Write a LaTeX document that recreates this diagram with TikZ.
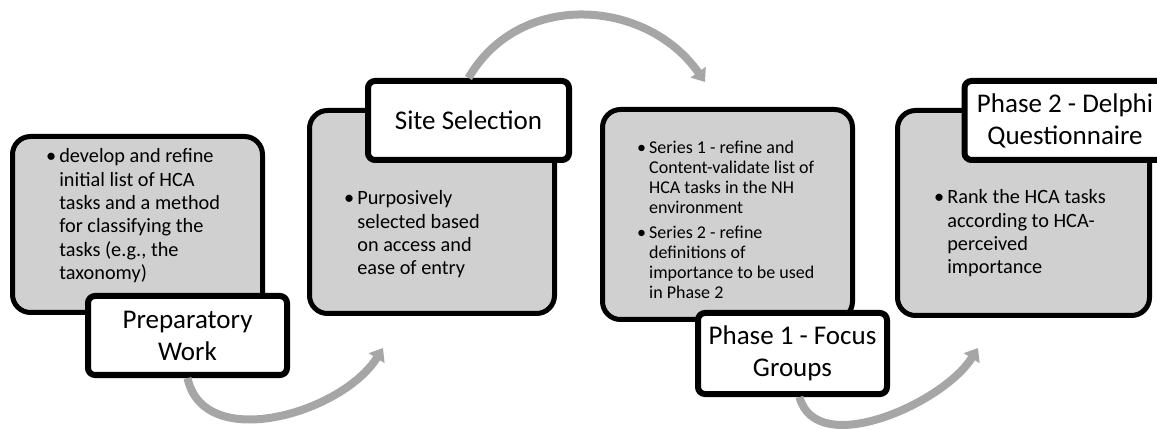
\documentclass[tikz,border=0pt]{standalone}
\usepackage{fontspec}
\setmainfont{Carlito}
\usepackage{xcolor}
\usepackage{tikz}
\usetikzlibrary{arrows.meta, shadows}
\definecolor{stagegray}{HTML}{D0D0D0}
\definecolor{arrowgray}{HTML}{A6A6A6}
\tikzset{
    stagebox/.style={draw=black, line width=5pt, fill=stagegray, rounded corners=18pt,
        drop shadow={opacity=0.25, shadow xshift=2pt, shadow yshift=-2pt}},
    stagelabel/.style={draw=black, line width=6pt, fill=white, rounded corners=7pt, align=center,
        inner sep=0pt, font=\fontsize{27}{32}\selectfont,
        drop shadow={opacity=0.3, shadow xshift=2pt, shadow yshift=-2pt}},
    stagetext/.style={anchor=base west, inner sep=0pt, font=\fontsize{20.3}{23.3}\selectfont},
    cyclearrow/.style={line width=8pt, arrowgray, -{Triangle[length=12pt, width=18pt]}}
}

\begin{document}
\begin{tikzpicture}[x=1pt, y=-1pt]
    \useasboundingbox (0,0) rectangle (1157,430);

    % Preparatory work
    \node[stagebox, minimum width=250pt, minimum height=176pt] (prepbox) at (137.5, 224.5) {};
    \node[stagetext] (preptext) at (46, 163) {\begin{tabular}[t]{@{}l@{\hspace{3pt}}l@{}}
        • & develop and refine\\ & initial list of HCA\\ & tasks and a method\\
          & for classifying the\\ & tasks (e.g., the\\ & taxonomy)\end{tabular}};
    \node[stagelabel, minimum width=199pt, minimum height=79pt] (preplabel) at (187.5, 335.5) {Preparatory\\Work};

    % Site selection
    \node[stagebox, minimum width=245pt, minimum height=203pt] (sitebox) at (432, 212) {};
    \node[stagetext] (sitetext) at (344, 205) {\begin{tabular}[t]{@{}l@{\hspace{3pt}}l@{}}
        • & Purposively\\ & selected based\\ & on access and\\ & ease of entry\end{tabular}};
    \node[stagelabel, minimum width=201pt, minimum height=79pt] (sitelabel) at (468.5, 120.5) {Site Selection};

    % Phase 1
    \node[stagebox, minimum width=250pt, minimum height=210pt] (focusbox) at (727.5, 214.5) {};
    \node[stagetext, font=\fontsize{18}{20}\selectfont] (focustext) at (637, 154) {\begin{tabular}[t]{@{}l@{\hspace{3pt}}l@{}}
        • & Series 1 - refine and\\ & Content-validate list of\\ & HCA tasks in the NH\\ & environment\\[5pt]
        • & Series 2 - refine\\ & definitions of\\ & importance to be used\\ & in Phase 2\end{tabular}};
    \node[stagelabel, minimum width=189pt, minimum height=81pt] (focuslabel) at (792.5, 353.5) {Phase 1 - Focus\\Groups};

    % Phase 2
    \node[stagebox, minimum width=252pt, minimum height=205pt] (delphibox) at (1023.5, 213) {};
    \node[stagetext] (delphitext) at (934, 204) {\begin{tabular}[t]{@{}l@{\hspace{3pt}}l@{}}
        • & Rank the HCA tasks\\ & according to HCA-\\ & perceived\\ & importance\end{tabular}};
    \node[stagelabel, minimum width=201pt, minimum height=79pt] (delphilabel) at (1065, 120.5) {Phase 2 - Delphi\\Questionnaire};

    % Arrows
    \coordinate (tosite) at (383, 348);
    \coordinate (tofocus) at (705, 82);
    \coordinate (todelphi) at (978, 348);
    \draw[cyclearrow] (preplabel.south) to[out=-78, in=-122, looseness=1] (tosite);
    \draw[cyclearrow] (sitelabel.north) to[out=60, in=125, looseness=1.1] (tofocus);
    \draw[cyclearrow] ([xshift=7pt]focuslabel.south) to[out=-75, in=-122, looseness=0.9] (todelphi);
\end{tikzpicture}
\end{document}
